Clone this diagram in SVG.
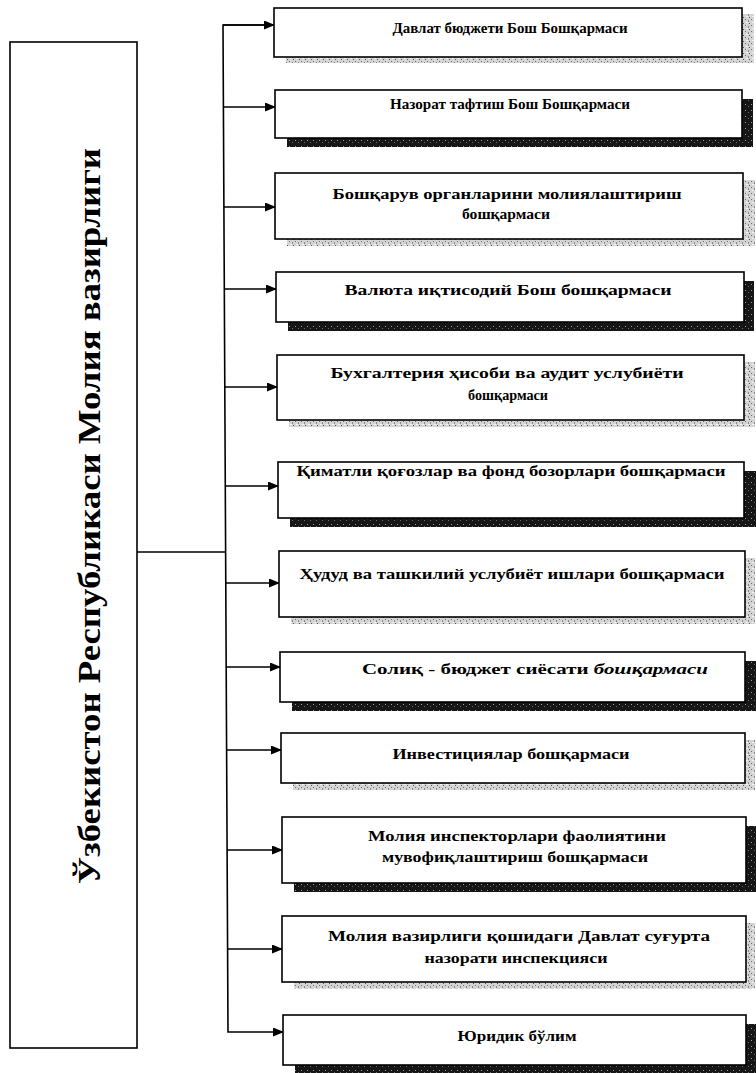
<svg xmlns="http://www.w3.org/2000/svg" width="756" height="1073" viewBox="0 0 756 1073">
<style>
.box{fill:#fff;stroke:#000;stroke-width:1.6}
.lt{fill:url(#ptl)}
.dk{fill:url(#ptd)}
.t{font-family:"Liberation Serif","DejaVu Serif",serif;font-weight:bold;font-size:14px;fill:#000;text-anchor:middle}
.ttl{font-family:"Liberation Serif","DejaVu Serif",serif;font-weight:bold;font-size:32px;fill:#000;text-anchor:middle}
.ln{stroke:#000;stroke-width:1.6;fill:none}
</style>
<defs>
<pattern id="ptl" width="6" height="6" patternUnits="userSpaceOnUse">
<rect width="6" height="6" fill="#d4d4d4"/>
<rect x="1" y="1" width="1" height="1" fill="#6e6e6e"/>
<rect x="4" y="2" width="1" height="2" fill="#8a8a8a"/>
<rect x="2" y="4" width="2" height="1" fill="#f4f4f4"/>
<rect x="5" y="5" width="1" height="1" fill="#555"/>
</pattern>
<pattern id="ptd" width="6" height="6" patternUnits="userSpaceOnUse">
<rect width="6" height="6" fill="#161616"/>
<rect x="1" y="2" width="1" height="1" fill="#9a9a9a"/>
<rect x="4" y="4" width="1" height="1" fill="#6a6a6a"/>
</pattern>
<marker id="ah" markerWidth="11" markerHeight="9" refX="10" refY="4.5" orient="auto" markerUnits="userSpaceOnUse">
<path d="M0,0 L11,4.5 L0,9 Z" fill="#000"/>
</marker>
</defs>
<rect width="756" height="1073" fill="#fff"/>

<g id="ministry">
<rect class="box" x="10" y="42" width="127" height="1006"/>
<text class="ttl" transform="translate(100,516) rotate(-90)" textLength="736" lengthAdjust="spacingAndGlyphs">Ўзбекистон Республикаси Молия вазирлиги</text>
</g>

<g id="connectors">
<line class="ln" x1="137" y1="552" x2="225.6" y2="552"/>
<polyline class="ln" points="274,25 223,25 228,1032 283,1032" marker-end="url(#ah)"/>
<line class="ln" x1="223.4" y1="107" x2="275" y2="107" marker-end="url(#ah)"/>
<line class="ln" x1="223.9" y1="207" x2="275" y2="207" marker-end="url(#ah)"/>
<line class="ln" x1="224.3" y1="289" x2="276" y2="289" marker-end="url(#ah)"/>
<line class="ln" x1="224.8" y1="387" x2="277" y2="387" marker-end="url(#ah)"/>
<line class="ln" x1="225.3" y1="486" x2="278" y2="486" marker-end="url(#ah)"/>
<line class="ln" x1="225.8" y1="583" x2="279" y2="583" marker-end="url(#ah)"/>
<line class="ln" x1="226.2" y1="667" x2="280" y2="667" marker-end="url(#ah)"/>
<line class="ln" x1="226.6" y1="750" x2="281" y2="750" marker-end="url(#ah)"/>
<line class="ln" x1="227.1" y1="850" x2="282" y2="850" marker-end="url(#ah)"/>
<line class="ln" x1="227.6" y1="949" x2="282" y2="949" marker-end="url(#ah)"/>
<line class="ln" x1="223" y1="25" x2="274" y2="25" marker-end="url(#ah)"/>
</g>

<g id="n1">
<rect class="lt" x="286" y="14" width="468" height="49"/>
<rect class="box" x="274" y="8" width="468" height="49"/>
<text class="t" x="510" y="33" textLength="235" lengthAdjust="spacingAndGlyphs">Давлат бюджети  Бош Бошқармаси</text>
</g>

<g id="n2">
<rect class="dk" x="287" y="99" width="466" height="48"/>
<rect class="box" x="275" y="90" width="467" height="48"/>
<text class="t" x="510" y="109" textLength="240" lengthAdjust="spacingAndGlyphs">Назорат тафтиш  Бош Бошқармаси</text>
</g>

<g id="n3">
<rect class="lt" x="287" y="180" width="468" height="66"/>
<rect class="box" x="275" y="173" width="468" height="66"/>
<text class="t" x="507" y="199" textLength="349" lengthAdjust="spacingAndGlyphs">Бошқарув  органларини молиялаштириш</text>
<text class="t" x="506" y="219" textLength="88" lengthAdjust="spacingAndGlyphs">бошқармаси</text>
</g>

<g id="n4">
<rect class="dk" x="288" y="281" width="466" height="50"/>
<rect class="box" x="276" y="272" width="468" height="50"/>
<text class="t" x="508" y="295" textLength="327" lengthAdjust="spacingAndGlyphs">Валюта иқтисодий  Бош бошқармаси</text>
</g>

<g id="n5">
<rect class="lt" x="289" y="362" width="466" height="65"/>
<rect class="box" x="277" y="355" width="467" height="65"/>
<text class="t" x="507" y="378" textLength="353" lengthAdjust="spacingAndGlyphs">Бухгалтерия ҳисоби  ва аудит  услубиёти</text>
<text class="t" x="508" y="400" textLength="80" lengthAdjust="spacingAndGlyphs">бошқармаси</text>
</g>

<g id="n6">
<rect class="dk" x="290" y="471" width="466" height="56"/>
<rect class="box" x="278" y="462" width="466" height="56"/>
<text class="t" x="511" y="476" textLength="429" lengthAdjust="spacingAndGlyphs">Қиматли қоғозлар  ва фонд  бозорлари  бошқармаси</text>
</g>

<g id="n7">
<rect class="lt" x="291" y="558" width="464" height="66"/>
<rect class="box" x="279" y="551" width="466" height="66"/>
<text class="t" x="512" y="579" textLength="425" lengthAdjust="spacingAndGlyphs">Ҳудуд ва ташкилий  услубиёт ишлари  бошқармаси</text>
</g>

<g id="n8">
<rect class="dk" x="292" y="661" width="464" height="50"/>
<rect class="box" x="280" y="652" width="465" height="50"/>
<text class="t" x="535" y="674" textLength="346" lengthAdjust="spacingAndGlyphs">Солиқ - бюджет сиёсати <tspan font-style="italic">бошқармаси</tspan></text>
</g>

<g id="n9">
<rect class="lt" x="293" y="740" width="462" height="50"/>
<rect class="box" x="281" y="733" width="464" height="50"/>
<text class="t" x="511" y="759" textLength="237" lengthAdjust="spacingAndGlyphs">Инвестициялар бошқармаси</text>
</g>

<g id="n10">
<rect class="dk" x="294" y="826" width="462" height="66"/>
<rect class="box" x="282" y="817" width="464" height="66"/>
<text class="t" x="517" y="841" textLength="298" lengthAdjust="spacingAndGlyphs">Молия инспекторлари  фаолиятини</text>
<text class="t" x="515" y="862" textLength="266" lengthAdjust="spacingAndGlyphs">мувофиқлаштириш бошқармаси</text>
</g>

<g id="n11">
<rect class="lt" x="294" y="923" width="461" height="66"/>
<rect class="box" x="282" y="916" width="464" height="66"/>
<text class="t" x="519" y="941" textLength="382" lengthAdjust="spacingAndGlyphs">Молия  вазирлиги  қошидаги Давлат  суғурта</text>
<text class="t" x="516" y="963" textLength="183" lengthAdjust="spacingAndGlyphs">назорати инспекцияси</text>
</g>

<g id="n12">
<rect class="dk" x="295" y="1024" width="461" height="50"/>
<rect class="box" x="283" y="1015" width="463" height="50"/>
<text class="t" x="517" y="1041" textLength="119" lengthAdjust="spacingAndGlyphs">Юридик бўлим</text>
</g>
</svg>
